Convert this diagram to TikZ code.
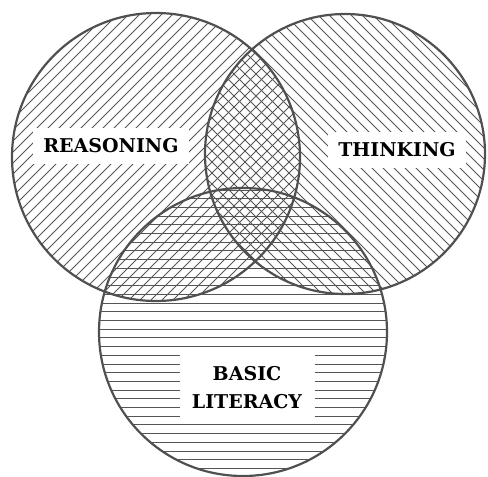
\documentclass[tikz,border=0pt]{standalone}
\usepackage{fontspec}
\newfontfamily\lblfont{DejaVu Serif}
\definecolor{ink}{HTML}{505050}
\definecolor{hatchc}{HTML}{555555}
\begin{document}
\begin{tikzpicture}[x=1pt,y=-1pt,
  hatch/.style={draw=hatchc,line width=0.9pt},
  rim/.style={draw=ink,line width=2.2pt},
  lbl/.style={fill=white,font=\lblfont\bfseries\fontsize{19}{28}\selectfont,text=black,align=center}]
\useasboundingbox (0,0) rectangle (488,477);
% hatching of Reasoning circle
\begin{scope}
  \clip (156,157) circle (144);
  \foreach \c in {0,11,...,990} \draw[hatch] (\c,0) -- ++(-500,500);
\end{scope}
% hatching of Thinking circle
\begin{scope}
  \clip (345,154) circle (140);
  \foreach \c in {-500,-489,...,500} \draw[hatch] (\c,0) -- ++(500,500);
\end{scope}
% hatching of Basic literacy circle
\begin{scope}
  \clip (243,332) circle (144);
  \foreach \c in {190,198.7,...,476} \draw[hatch] (90,\c) -- (400,\c);
\end{scope}
% labels
\node[lbl,inner xsep=10pt,inner ysep=11pt] (reas) at (111,146) {REASONING};
\node[lbl,inner xsep=10pt,inner ysep=11pt] (think) at (397,150) {THINKING};
\node[lbl,minimum width=135pt,minimum height=70pt,inner sep=2pt] (basic) at (247,388) {BASIC\\LITERACY};
% outlines
\draw[rim] (156,157) circle (144);
\draw[rim] (345,154) circle (140);
\draw[rim] (243,332) circle (144);
\end{tikzpicture}
\end{document}
